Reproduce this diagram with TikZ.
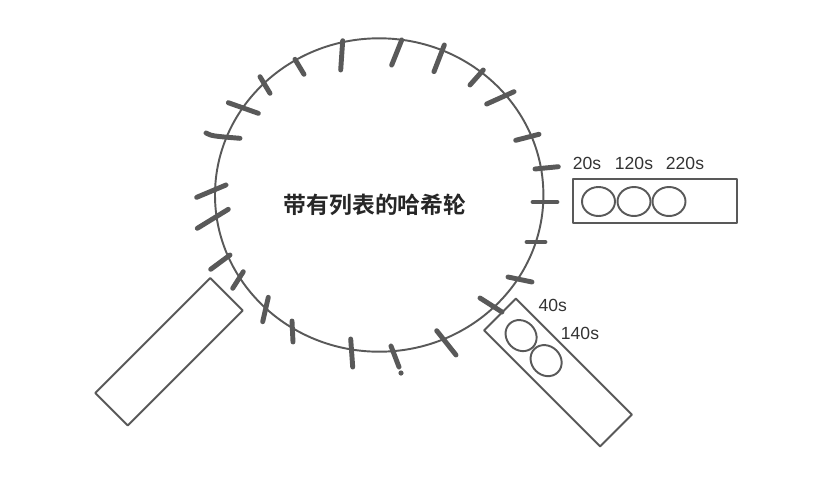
\documentclass[tikz,border=0pt]{standalone}
\usepackage{fontspec}
\setmainfont{Liberation Sans}
\newfontfamily\cjk{Noto Sans CJK SC}[BoldFont={Noto Sans CJK SC Bold}]
\definecolor{rim}{HTML}{595959}
\definecolor{ink}{HTML}{333333}

\begin{document}
\begin{tikzpicture}[x=0.02cm,y=-0.02cm,line cap=round,line join=round,
  every node/.style={inner sep=1pt},
  tick/.style={draw=rim,line width=2.8pt},
  slotbox/.style={draw=rim,line width=1.1pt},
  timer/.style={text=ink,font=\fontsize{10}{12}\selectfont}]
  \useasboundingbox (0,0) rectangle (816,481);
  \def\cx{379.2}
  \def\cy{195}
  \draw[rim,line width=1.1pt] (\cx,\cy) ellipse[x radius=164.2,y radius=156.7];
  % slots on the wheel
  \foreach \xa/\ya/\xb/\yb in {342.7/40.7/340.7/70, 401.7/40/391.7/65, 444.3/45/434/71.7,
      483.3/70/470/85, 514/91.7/486.7/104, 539/134.3/515.7/140.3, 558.3/166.7/535/169,
      557/202/533/202, 545/242/527/242, 532/282/508/277, 502/312/480/298,
      456/355/436.7/330.7, 399/367/391/346, 352.7/367/350.7/339, 293/342/292/321,
      268.3/297.3/262.7/321.7, 243.3/271.7/232.7/288.3, 230/255/210.7/269.3,
      228.3/209.3/197.3/228.3, 226/185/196.7/197.3, 258.3/113.3/228.3/102.7,
      270/93.3/260/76.7, 304/74.3/295/59.3} {
    \draw[tick] (\xa,\ya) -- (\xb,\yb);
  }
  \draw[tick] (206,133) .. controls (212,136) .. (240,138.3);
  \fill[rim] (401,373) circle[radius=2.6];
  \node[text=black!85,font=\cjk\bfseries\fontsize{13}{15}\selectfont] (wheel) at (375,205) {带有列表的哈希轮};
  % list at the right slot
  \draw[slotbox] (573,179) rectangle (737,223);
  \foreach \ex in {598.5,634,669} {
    \draw[slotbox] (\ex,201.5) ellipse[x radius=16.5,y radius=14.5];
  }
  \node[timer] (t20) at (587,163) {20s};
  \node[timer] (t120) at (634,163) {120s};
  \node[timer] (t220) at (685,163) {220s};
  % list at the lower right slot
  \begin{scope}[shift={(558,372.5)},rotate=-45]
    \draw[slotbox] (-82,-22.5) rectangle (82,22.5);
    \foreach \ex in {-52.2,-16.8} {
      \draw[slotbox] (\ex,0) ellipse[x radius=16.5,y radius=14.5];
    }
  \end{scope}
  \node[timer] (t40) at (552.7,305) {40s};
  \node[timer] (t140) at (580,333) {140s};
  % empty list at the lower left slot
  \begin{scope}[shift={(169,351.7)},rotate=45]
    \draw[slotbox] (-81.3,-23) rectangle (81.3,23);
  \end{scope}
\end{tikzpicture}
\end{document}
